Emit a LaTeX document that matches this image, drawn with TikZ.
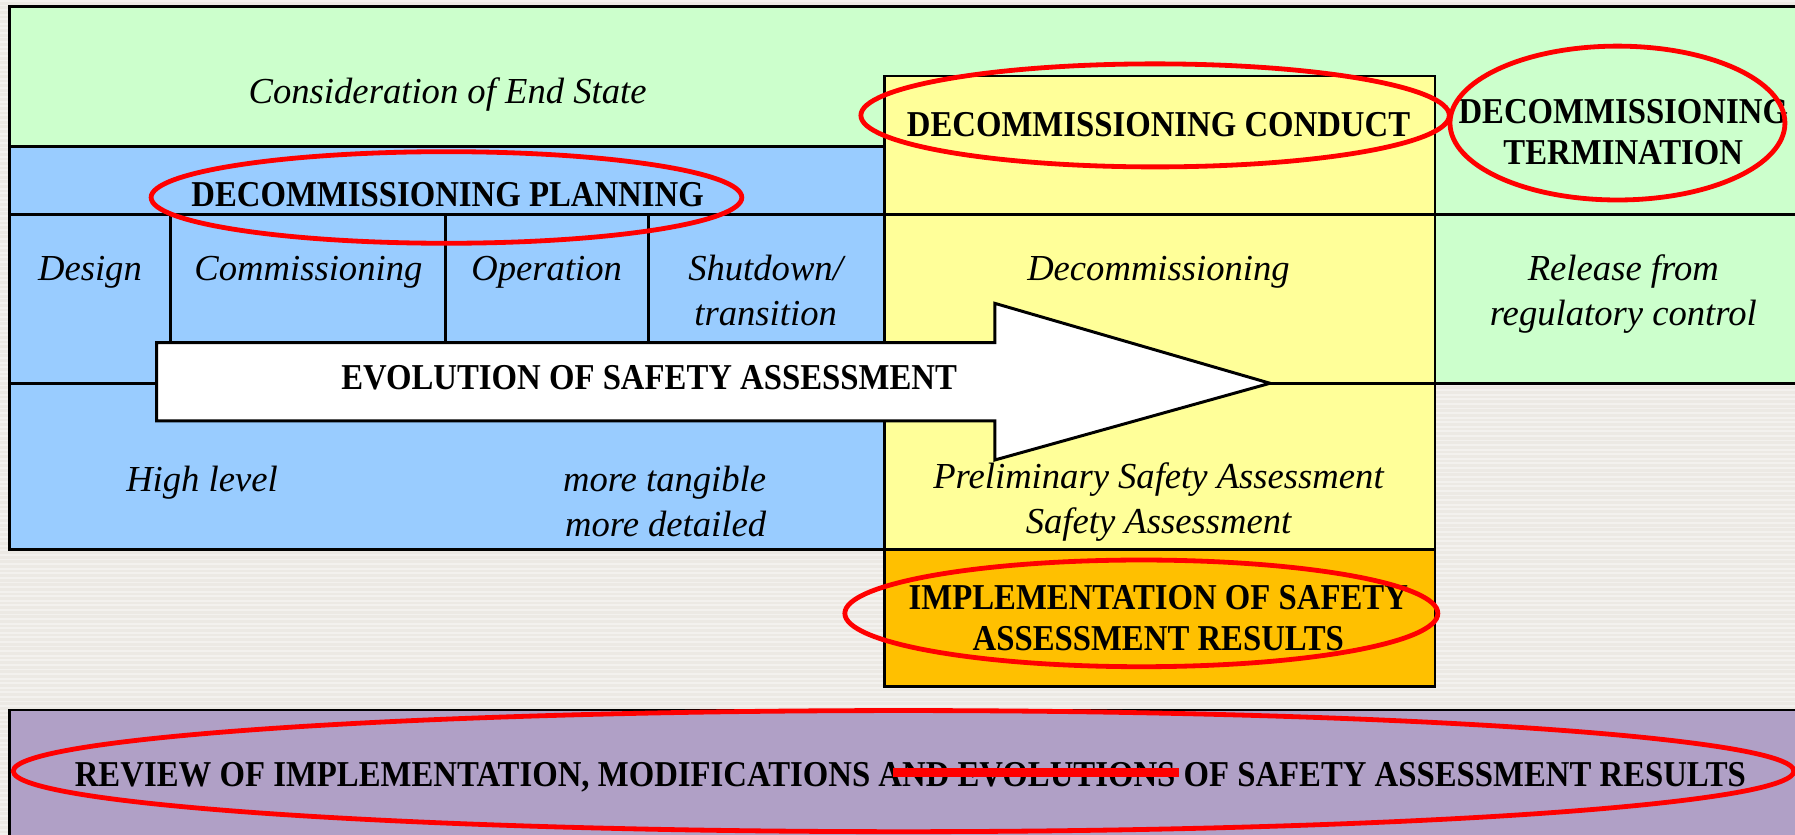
\documentclass[tikz,border=0pt]{standalone}
\usepackage{fontspec}
\setmainfont{Liberation Serif}
\newfontfamily\bcond[FakeStretch=0.9]{Liberation Serif}
\definecolor{bgc}{HTML}{ECE9E4}
\definecolor{bgs}{HTML}{F3F1EE}
\definecolor{greenc}{HTML}{CCFFCC}
\definecolor{bluec}{HTML}{99CCFF}
\definecolor{yellowc}{HTML}{FFFF99}
\definecolor{orangec}{HTML}{FFC000}
\definecolor{purplec}{HTML}{B0A0C6}
\definecolor{redc}{HTML}{FF0000}
\tikzset{
  bt/.style={font=\bcond\bfseries\fontsize{31.8}{35.8}\selectfont, inner sep=0pt, align=center},
  it/.style={font=\itshape\fontsize{32}{39.3}\selectfont, inner sep=0pt, align=center},
  ln/.style={draw=black, line width=2.6pt},
  oval/.style={draw=redc, line width=4.2pt},
}
\begin{document}
\begin{tikzpicture}[x=1pt,y=-1pt]
\useasboundingbox (0,0) rectangle (1568,729.4);
% background
\fill[bgc] (0,0) rectangle (1568,729.4);
\foreach \i in {0,...,182} {\fill[bgs] (0,{4*\i}) rectangle (1568,{4*\i+1.6});}
% regions
\fill[greenc] (8.7,6.1) rectangle (1575,128.4);
\fill[greenc] (1253.5,128.4) rectangle (1575,334.8);
\fill[bluec] (8.7,128.4) rectangle (773,479.8);
\fill[yellowc] (773,66.4) rectangle (1253.5,480.4);
\fill[orangec] (773,480.4) rectangle (1253.5,599.8);
\fill[purplec] (8.7,620.2) rectangle (1575,740);
% lines
\draw[ln] (1575,6.1) -- (8.7,6.1) -- (8.7,479.8) -- (773,479.8);
\draw[ln] (8.7,128.4) -- (773,128.4);
\draw[ln] (8.7,187.8) -- (1575,187.8);
\draw[ln] (8.7,334.8) -- (1575,334.8);
\draw[ln] (149,187.8) -- (149,334.8);
\draw[ln] (389.3,187.8) -- (389.3,334.8);
\draw[ln] (566.3,187.8) -- (566.3,334.8);
\draw[ln] (773,66.4) rectangle (1253.5,599.8);
\draw[ln] (773,480.4) -- (1253.5,480.4);
\draw[ln] (1575,620.2) -- (8.7,620.2) -- (8.7,740);
% arrow
\draw[ln, fill=white, line join=miter] (136.9,299.3) -- (869.1,299.3) -- (869.1,265) -- (1109.4,334.8) -- (869.1,401.8) -- (869.1,367.7) -- (136.9,367.7) -- cycle;
% texts
\node[it,anchor=base] (endstate) at (391,90.5) {Consideration of End State};
\node[bt,anchor=base] (planning) at (391,180.8) {DECOMMISSIONING PLANNING};
\node[bt,anchor=base] (conduct) at (1012,119.4) {DECOMMISSIONING CONDUCT};
\node[bt] (termination) at (1418,115.5) {DECOMMISSIONING\\TERMINATION};
\node[it,anchor=base] (design) at (78.6,244.6) {Design};
\node[it,anchor=base] (commissioning) at (269.4,244.6) {Commissioning};
\node[it,anchor=base] (operation) at (477.6,244.6) {Operation};
\node[it] (shutdown) at (668.8,253.5) {Shutdown/\\transition};
\node[it,anchor=base] (decom) at (1012,244.6) {Decommissioning};
\node[it] (release) at (1418,256.7) {Release from\\regulatory control};
\node[bt,anchor=base] (evolution) at (567,340) {EVOLUTION OF SAFETY ASSESSMENT};
\node[it,anchor=base] (highlevel) at (176.5,429) {High level};
\node[it,anchor=east,align=right] (tangible) at (669.5,438) {more tangible\\more detailed};
\node[it] (prelim) at (1012,438.3) {Preliminary Safety Assessment\\Safety Assessment};
\node[bt] (implementation) at (1011.8,539.6) {IMPLEMENTATION OF SAFETY\\ASSESSMENT RESULTS};
\node[bt,anchor=base] (review) at (795.3,687.2) {REVIEW OF IMPLEMENTATION, MODIFICATIONS AND EVOLUTIONS OF SAFETY ASSESSMENT RESULTS};
% red marks
\draw[oval] (390,172.5) ellipse [x radius=258pt, y radius=40pt];
\draw[oval] (1009,100.8) ellipse [x radius=257pt, y radius=45pt];
\draw[oval] (1412.9,107.5) ellipse [x radius=146.3pt, y radius=67.2pt];
\draw[oval] (997,535.8) ellipse [x radius=259pt, y radius=46.6pt];
\draw[oval] (789.3,673.6) ellipse [x radius=777.7pt, y radius=52.9pt];
\draw[redc, line width=7.9pt] (780,675) -- (1030,675);
\end{tikzpicture}
\end{document}
